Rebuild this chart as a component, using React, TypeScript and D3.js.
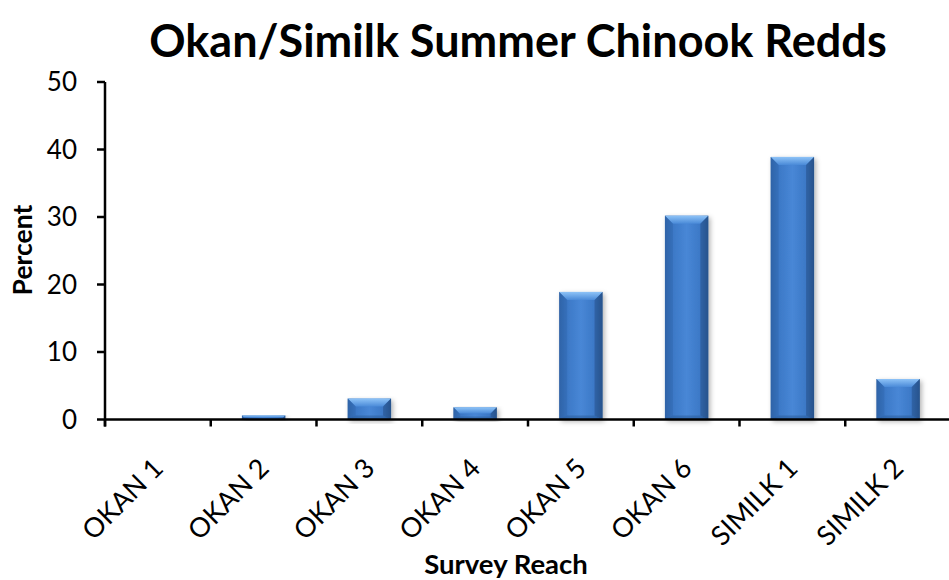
import React from "react";
import * as d3 from "d3";

const categories = ["OKAN 1", "OKAN 2", "OKAN 3", "OKAN 4", "OKAN 5", "OKAN 6", "SIMILK 1", "SIMILK 2"];
const percentValues = [0, 0.6, 3.1, 1.8, 18.9, 30.2, 38.9, 6.0];
const yTicks = [0, 10, 20, 30, 40, 50];
const titleText = "Okan/Similk Summer Chinook Redds";
const xTitle = "Survey Reach";
const yTitle = "Percent";

const W = 949;
const H = 580;
const FONT = "Lato, 'Open Sans', 'Liberation Sans', sans-serif";

export default function App() {
  const x = d3.scaleBand<string>().domain(categories).range([105, 951]).paddingInner(0.59).paddingOuter(0.295);
  const y = d3.scaleLinear().domain([0, 50]).range([419.5, 82]);
  const step = x.step();
  const bw = x.bandwidth();
  const boundaries = d3.range(categories.length + 1).map((i) => 105 + i * step);

  return (
    <svg width={W} height={H} style={{ position: "fixed", left: 0, top: 0, background: "#fff" }} fontFamily={FONT}>
      <defs>
        <linearGradient id="body" x1="0" x2="1" y1="0" y2="0">
          <stop offset="0" stopColor="#2d5fa0" />
          <stop offset="0.18" stopColor="#3c78c6" />
          <stop offset="0.5" stopColor="#4887d6" />
          <stop offset="0.82" stopColor="#3c78c6" />
          <stop offset="1" stopColor="#2a5893" />
        </linearGradient>
        <linearGradient id="topBevel" x1="0" x2="0" y1="0" y2="1">
          <stop offset="0" stopColor="#8ec3f7" />
          <stop offset="1" stopColor="#4a8ad8" />
        </linearGradient>
        <filter id="shadow" x="-30%" y="-10%" width="160%" height="130%">
          <feDropShadow dx="2" dy="2" stdDeviation="2.5" floodColor="#000" floodOpacity="0.3" />
        </filter>
      </defs>

      <text x={518} y={57} textAnchor="middle" fontSize={45} fontWeight="bold" fill="#000">{titleText}</text>

      {categories.map((c, i) => {
        const v = percentValues[i];
        if (v <= 0) return null;
        const x0 = x(c)!;
        const x1 = x0 + bw;
        const y0 = y(v);
        const y1 = y(0);
        const h = y1 - y0;
        const b = Math.min(8, h / 2);
        const bb = Math.min(4, h / 4);
        return (
          <g key={c}>
            <rect x={x0} y={y0} width={bw} height={h} fill="url(#body)" filter="url(#shadow)" />
            <polygon points={`${x0},${y0} ${x1},${y0} ${x1 - b},${y0 + b} ${x0 + b},${y0 + b}`} fill="url(#topBevel)" />
            <polygon points={`${x0},${y0} ${x0 + b},${y0 + b} ${x0 + b},${y1 - bb} ${x0},${y1}`} fill="#3068b0" opacity={0.5} />
            <polygon points={`${x1},${y0} ${x1 - b},${y0 + b} ${x1 - b},${y1 - bb} ${x1},${y1}`} fill="#234d86" opacity={0.5} />
            <polygon points={`${x0},${y1} ${x0 + b},${y1 - bb} ${x1 - b},${y1 - bb} ${x1},${y1}`} fill="#2c5e9f" opacity={0.55} />
          </g>
        );
      })}

      {/* y axis */}
      <line x1={105} x2={105} y1={y(50)} y2={y(0) + 7} stroke="#000" strokeWidth={2.5} />
      {yTicks.map((t) => (
        <g key={t}>
          <line x1={97} x2={105} y1={y(t)} y2={y(t)} stroke="#000" strokeWidth={2.5} />
          <text x={77} y={y(t)} dy="0.36em" textAnchor="end" fontSize={26} fill="#000">{t}</text>
        </g>
      ))}

      {/* x axis */}
      <line x1={105} x2={W} y1={y(0)} y2={y(0)} stroke="#000" strokeWidth={2.5} />
      {boundaries.map((bx, i) => (
        <line key={i} x1={bx} x2={bx} y1={y(0)} y2={y(0) + 7} stroke="#000" strokeWidth={2.5} />
      ))}
      {categories.map((c) => {
        const cx = x(c)! + bw / 2;
        return (
          <text key={c} transform={`translate(${cx + 7},${470}) rotate(-45)`} textAnchor="end" fontSize={27} fill="#000">{c}</text>
        );
      })}

      <text x={506} y={574} textAnchor="middle" fontSize={27.5} fontWeight="bold" fill="#000">{xTitle}</text>
      <text transform={`translate(32,250) rotate(-90)`} textAnchor="middle" fontSize={26.5} fontWeight="bold" fill="#000">{yTitle}</text>
    </svg>
  );
}
